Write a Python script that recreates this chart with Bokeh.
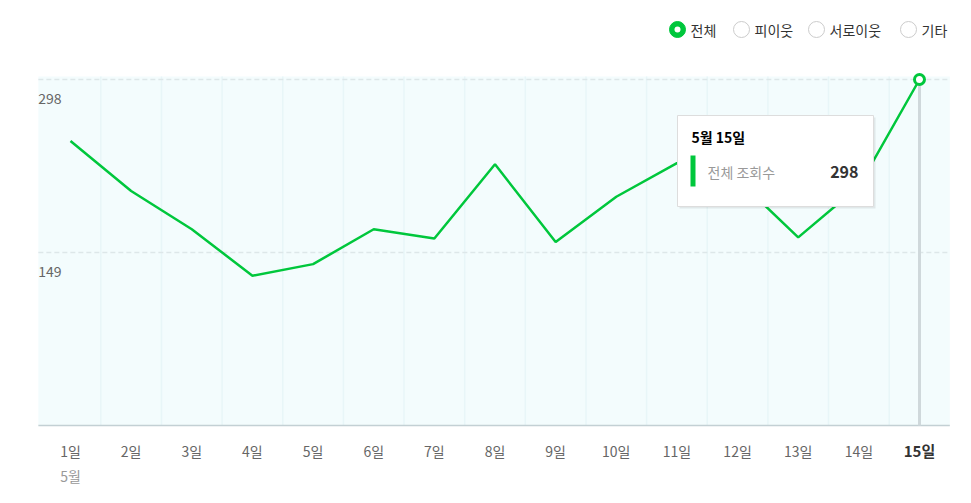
from bokeh.plotting import figure
from bokeh.models import Range1d, ColumnDataSource
from bokeh.core.properties import value
from bokeh.embed import file_html
from bokeh.resources import INLINE

# ---- data ----
days = list(range(1, 16))
day_labels = ["1일", "2일", "3일", "4일", "5일", "6일", "7일", "8일", "9일", "10일",
              "11일", "12일", "13일", "14일", "15일"]
views = [245, 202, 169, 129, 139, 169, 161, 225, 158, 197, 226, 212, 162, 206, 298]
month_label = "5월"
y_ticks = [149, 298]
y_tick_labels = ["149", "298"]
legend_labels = ["전체", "피이웃", "서로이웃", "기타"]
tooltip_title = "5월 15일"
tooltip_series = "전체 조회수"

FONT = "Noto Sans CJK KR"
GREEN = "#00c73c"

W, H = 971, 503
# pixel <-> data helpers (x: 1 -> 70px, 15 -> 919px ; y: 0 -> 425px, 298 -> 79px)
PPU_X = (919 - 70) / 14.0
PPU_Y = (425 - 79) / 298.0


def px_x(px):
    return 1 + (px - 70) / PPU_X


def px_y(py):
    return (425 - py) / PPU_Y


p = figure(width=W, height=H, output_backend="svg", toolbar_location=None,
           x_range=Range1d(px_x(0), px_x(W)), y_range=Range1d(px_y(H), px_y(0)),
           x_axis_location=None, y_axis_location=None, min_border=0, tools="")
p.outline_line_color = None
p.background_fill_color = "white"
p.border_fill_color = "white"
p.xgrid.visible = False
p.ygrid.visible = False

# plot-area background
x0, x1 = days[0] - 0.5, days[-1] + 0.5
top = px_y(76)
p.quad(left=[x0 - 0.03], right=[x1], bottom=[0], top=[top], fill_color="#f3fcfd", line_color=None)
# faint band separators
seps = [d + 0.5 for d in days[:-1]]
p.segment(x0=seps, y0=[0] * len(seps), x1=seps, y1=[top] * len(seps),
          line_color="#e8f6f8", line_width=1.5)
# dashed gridlines
p.segment(x0=[x0 - 0.03] * len(y_ticks), y0=y_ticks, x1=[x1] * len(y_ticks), y1=y_ticks,
          line_color="#dde7e9", line_width=1.5, line_dash="5 3")
# baseline
p.segment(x0=[x0 - 0.03], y0=[0], x1=[x1], y1=[0], line_color="#c3d0d4", line_width=1.5)
# y tick labels inside plot
p.text(x=[x0] * len(y_ticks), y=y_ticks, text=y_tick_labels, x_offset=-2, y_offset=19,
       text_align="left", text_baseline="middle", text_font=value(FONT),
       text_font_size="14px", text_color="#666666")

# hover vertical line at last point
p.segment(x0=[days[-1]], y0=[0], x1=[days[-1]], y1=[views[-1]], line_color="#cfd8db", line_width=3)

# data line
src = ColumnDataSource(dict(x=days, y=views))
p.line("x", "y", source=src, line_color=GREEN, line_width=2.5)
p.scatter(x=[days[-1]], y=[views[-1]], size=10, fill_color="white", line_color=GREEN, line_width=3)

# x tick labels (drawn with the x scale)
p.text(x=days[:-1], y=[0] * (len(days) - 1), text=day_labels[:-1], y_offset=25,
       text_align="center", text_baseline="middle", text_font=value(FONT),
       text_font_size="14px", text_color="#666666")
p.text(x=[days[-1]], y=[0], text=[day_labels[-1]], y_offset=25,
       text_align="center", text_baseline="middle", text_font=value(FONT),
       text_font_size="15px", text_font_style="bold", text_color="#333333")
p.text(x=[days[0]], y=[0], text=[month_label], y_offset=50,
       text_align="center", text_baseline="middle", text_font=value(FONT),
       text_font_size="14px", text_color="#999999")

# legend (radio buttons)
leg_px = [677, 741, 816, 908]
leg_y = px_y(29)
lx = [px_x(v) for v in leg_px]
p.scatter(x=lx[1:], y=[leg_y] * 3, size=16, fill_color="white", line_color="#cccccc", line_width=1)
p.scatter(x=[lx[0]], y=[leg_y], size=16, fill_color=GREEN, line_color=GREEN, line_width=1)
p.scatter(x=[lx[0]], y=[leg_y], size=6, fill_color="white", line_color=None)
p.text(x=lx, y=[leg_y] * 4, text=legend_labels, x_offset=13, text_align="left",
       text_baseline="middle", text_font=value(FONT), text_font_size="14px", text_color="#333333")

# tooltip box
p.quad(left=[px_x(679)], right=[px_x(875)], top=[px_y(117)], bottom=[px_y(208)],
       fill_color="#000000", fill_alpha=0.08, line_color=None)
p.quad(left=[px_x(677)], right=[px_x(873)], top=[px_y(115)], bottom=[px_y(206)],
       fill_color="white", line_color="#dddddd", line_width=1)
p.text(x=[px_x(691)], y=[px_y(136)], text=[tooltip_title], text_align="left",
       text_baseline="middle", text_font=value(FONT), text_font_size="14px",
       text_font_style="bold", text_color="#000000")
p.quad(left=[px_x(690)], right=[px_x(695)], top=[px_y(155)], bottom=[px_y(186)],
       fill_color=GREEN, line_color=None)
p.text(x=[px_x(707)], y=[px_y(171)], text=[tooltip_series], text_align="left",
       text_baseline="middle", text_font=value(FONT), text_font_size="14px", text_color="#999999")
p.text(x=[px_x(858)], y=[px_y(171)], text=[str(views[-1])], text_align="right",
       text_baseline="middle", text_font=value(FONT), text_font_size="16px",
       text_font_style="bold", text_color="#333333")

open("out.html", "w").write(file_html(p, INLINE))
